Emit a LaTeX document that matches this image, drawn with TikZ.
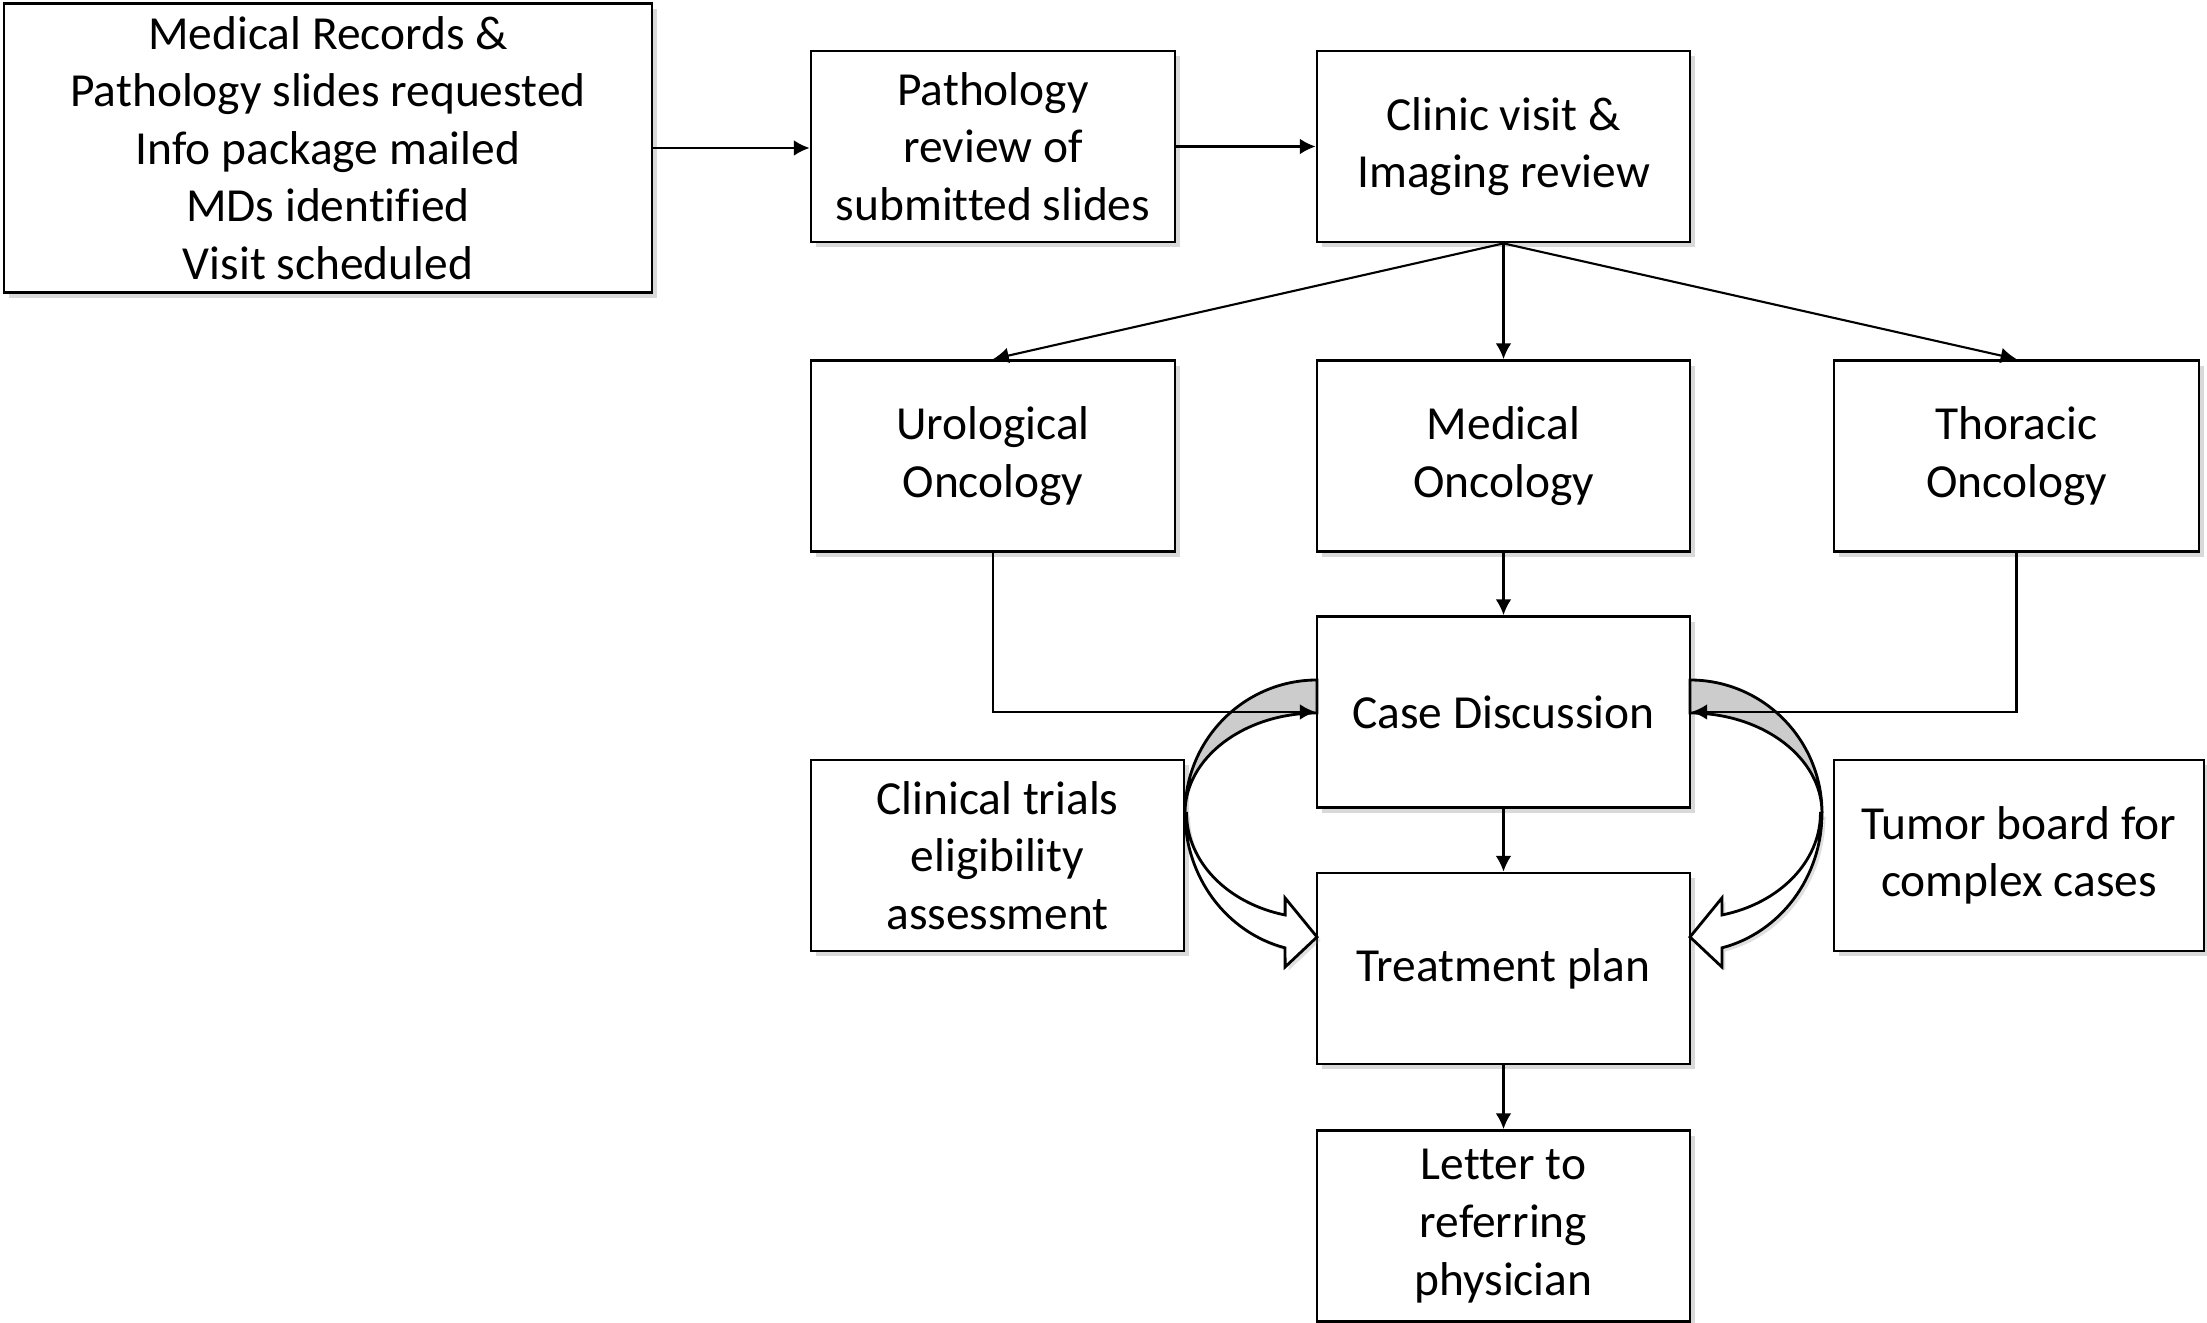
\documentclass[tikz,border=0pt]{standalone}
\usepackage{fontspec}
\setmainfont[Ligatures=NoCommon]{Carlito}
\usepackage{tikz}
\usetikzlibrary{arrows.meta,shadows}

\begin{document}
\begin{tikzpicture}[
    box/.style={draw, thick, fill=white, align=center, inner sep=2pt,
        minimum width=3.73cm, minimum height=1.91cm,
        font=\fontsize{13.5}{16.4}\selectfont,
        drop shadow={shadow xshift=1.5pt, shadow yshift=-1.5pt, opacity=0.3}},
    >={Latex[length=4.5pt,width=4.5pt]}]
\useasboundingbox (0,0) rectangle (22.07,-13.23);
\node[box, minimum width=6.48cm, minimum height=2.89cm] (rec) at (3.28,-1.48)
    {Medical Records \&\\Pathology slides requested\\Info package mailed\\MDs identified\\Visit scheduled};
\node[box, minimum width=3.64cm] (path) at (9.93,-1.465) {Pathology\\review of\\submitted slides};
\node[box] (clinic) at (15.035,-1.465) {Clinic visit \&\\Imaging review};
\node[box, minimum width=3.64cm] (uro) at (9.93,-4.56) {Urological\\Oncology};
\node[box] (med) at (15.035,-4.56) {Medical\\Oncology};
\node[box, minimum width=3.65cm] (thor) at (20.165,-4.56) {Thoracic\\Oncology};
\node[box] (case) at (15.035,-7.12) {Case Discussion};
\node[box] (trials) at (9.975,-8.555) {Clinical trials\\eligibility\\assessment};
\node[box] (treat) at (15.035,-9.685) {Treatment plan};
\node[box, minimum width=3.70cm] (tumor) at (20.19,-8.555) {Tumor board for\\complex cases};
\node[box] (letter) at (15.035,-12.26) {Letter to\\referring\\physician};
% curved block arrows on both sides of the case discussion
\foreach \s in {1,-1}{
  \begin{scope}[xshift=15.035cm, xscale=\s, thick]
    \draw[fill=gray!40] (-1.865,-6.80) arc[start angle=90, end angle=180, x radius=1.32, y radius=1.33]
        arc[start angle=180, end angle=90, x radius=1.32, y radius=1.0] -- cycle;
    \draw[fill=white, drop shadow={shadow xshift=1pt, shadow yshift=-1pt, opacity=0.25}]
        (-3.185,-8.13) arc[start angle=180, end angle=256, x radius=1.32, y radius=1.39]
        -- (-2.184,-9.67) -- (-1.865,-9.37) -- (-2.184,-8.98) -- (-2.184,-9.15)
        arc[start angle=256, end angle=180, x radius=1.30, y radius=1.05] -- cycle;
  \end{scope}
}
% connectors
\draw[->, semithick] (rec.east) -- (rec.east -| path.west);
\draw[->, semithick] (path) -- (clinic);
\foreach \t in {uro,med,thor}
    \draw[->, semithick] (clinic.south) -- (\t.north);
\draw[->, semithick] (uro.south) |- (case.west);
\draw[->, semithick] (thor.south) |- (case.east);
\foreach \a/\b in {med/case,case/treat,treat/letter}
    \draw[->, semithick] (\a) -- (\b);
\end{tikzpicture}
\end{document}
